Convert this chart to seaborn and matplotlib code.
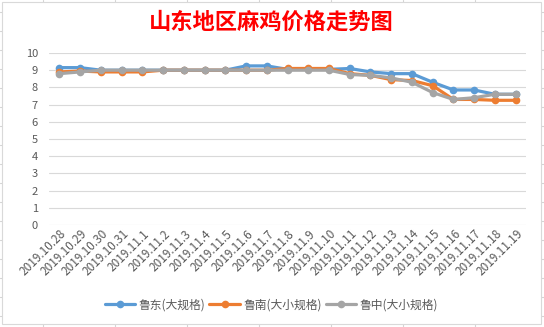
import matplotlib
matplotlib.use("Agg")
import matplotlib.pyplot as plt
from matplotlib.lines import Line2D
from matplotlib.patches import Rectangle
import matplotlib.transforms as mtransforms
import seaborn as sns
import pandas as pd

dates = ["2019.10.28", "2019.10.29", "2019.10.30", "2019.10.31", "2019.11.1",
         "2019.11.2", "2019.11.3", "2019.11.4", "2019.11.5", "2019.11.6",
         "2019.11.7", "2019.11.8", "2019.11.9", "2019.11.10", "2019.11.11",
         "2019.11.12", "2019.11.13", "2019.11.14", "2019.11.15", "2019.11.16",
         "2019.11.17", "2019.11.18", "2019.11.19"]
series_names = ["鲁东(大规格)", "鲁南(大小规格)", "鲁中(大小规格)"]
east = [9.15, 9.15, 9.0, 9.0, 9.0, 9.0, 9.0, 9.0, 9.0, 9.25, 9.25, 9.05, 9.05,
        9.05, 9.1, 8.9, 8.8, 8.8, 8.3, 7.85, 7.85, 7.6, 7.6]
south = [8.9, 8.95, 8.9, 8.9, 8.9, 9.0, 9.0, 9.0, 9.0, 9.0, 9.0, 9.1, 9.1,
         9.1, 8.8, 8.7, 8.45, 8.4, 8.1, 7.3, 7.3, 7.25, 7.25]
central = [8.8, 8.9, 9.0, 9.0, 9.0, 9.0, 9.0, 9.0, 9.0, 9.0, 9.0, 9.0, 9.0,
           9.0, 8.75, 8.7, 8.55, 8.3, 7.7, 7.3, 7.4, 7.6, 7.6]
yticks = list(range(0, 11))
title = "山东地区麻鸡价格走势图"
colors = ["#5B9BD5", "#ED7D31", "#A5A5A5"]

sns.set_theme(style="white")
plt.rcParams["font.family"] = ["Noto Sans CJK SC", "DejaVu Sans"]

rows = []
for name, vals in zip(series_names, [east, south, central]):
    for d, v in zip(dates, vals):
        rows.append({"date": d, "series": name, "price": v})
df = pd.DataFrame(rows)

W, H = 544, 327
fig = plt.figure(figsize=(W / 100, H / 100), dpi=100)
fig.patch.set_facecolor("white")

# spreadsheet background grid
for k in range(18):
    y = 11.7 + 19 * k
    fig.add_artist(Line2D([0, 1], [1 - y / H, 1 - y / H], color="#D4D4D4",
                          lw=0.8, zorder=-3, transform=fig.transFigure))
for x in [43, 115, 187, 259, 331, 403, 475]:
    fig.add_artist(Line2D([x / W, x / W], [0, 1], color="#D4D4D4",
                          lw=0.8, zorder=-3, transform=fig.transFigure))
fig.add_artist(Rectangle((2 / W, 1 - 324 / H), 539 / W, 322 / H,
                         facecolor="white", edgecolor="#D9D9D9", lw=0.8,
                         zorder=-2, transform=fig.transFigure))

ax = fig.add_axes([49 / W, 1 - 225 / H, (526 - 49) / W, (225 - 53) / H])
ax.set_facecolor("white")

sns.lineplot(data=df, x="date", y="price", hue="series", palette=colors,
             marker="o", markersize=5.5, markeredgewidth=0, linewidth=2.3,
             sort=False, ax=ax)

ax.set_xlim(-0.5, len(dates) - 0.5)
ax.set_ylim(0, 10)
ax.set_yticks(yticks)
ax.set_yticklabels([str(t) for t in yticks])
ax.yaxis.grid(True, color="#D9D9D9", lw=0.8)
ax.set_axisbelow(True)
for s in ax.spines.values():
    s.set_visible(False)
ax.set_xlabel("")
ax.set_ylabel("")
ax.tick_params(axis="both", length=0, labelcolor="#595959")
ax.tick_params(axis="y", pad=8, labelsize=8)
ax.tick_params(axis="x", pad=5, labelsize=8.5)
ax.set_xticks(range(len(dates)))
ax.set_xticklabels(dates, rotation=45, ha="right", va="center",
                   rotation_mode="anchor")
offset = mtransforms.ScaledTranslation(5 / 100, 0, fig.dpi_scale_trans)
for lbl in ax.get_xticklabels():
    lbl.set_transform(lbl.get_transform() + offset)

handles, labels = ax.get_legend_handles_labels()
ax.get_legend().remove()
fig.legend(handles, labels, loc="center", bbox_to_anchor=(271.5 / W, 1 - 305 / H),
           ncol=3, frameon=False, fontsize=8.5, handlelength=2.6,
           columnspacing=0.3, handletextpad=0.3, labelcolor="#595959")

fig.text(271.5 / W, 1 - 22 / H, title, ha="center", va="center",
         color="#FF0000", fontsize=16, fontweight="bold")

fig.savefig("out.png", dpi=100)
